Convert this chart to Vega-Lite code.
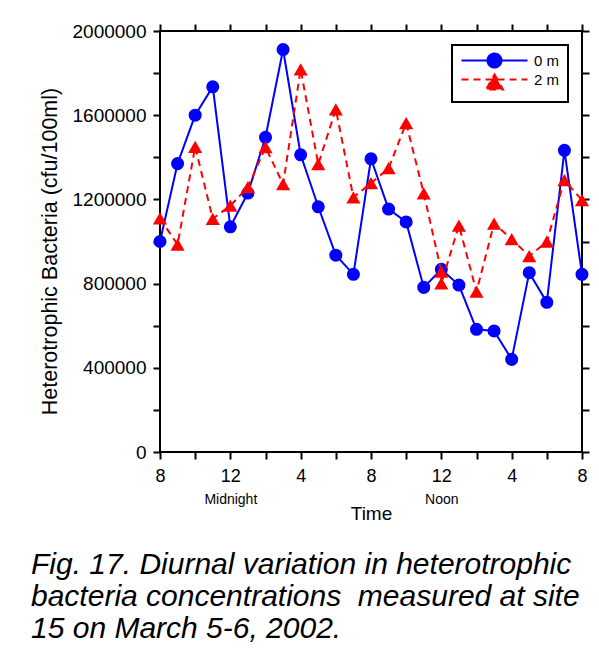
{
  "$schema": "https://vega.github.io/schema/vega-lite/v6.json",
  "width": 422,
  "height": 421,
  "autosize": {"type": "none"},
  "padding": {"left": 160, "top": 31, "right": 17, "bottom": 199},
  "background": "white",
  "config": {
    "font": "Liberation Sans",
    "view": {"stroke": "black", "strokeWidth": 2},
    "legend": {"strokeWidth": 2},
    "axis": {"grid": false, "domain": false, "labelColor": "black", "titleColor": "black", "tickColor": "black", "labelFont": "Liberation Sans", "titleFont": "Liberation Sans"}
  },
  "title": {
    "text": ["Fig. 17. Diurnal variation in heterotrophic", "bacteria concentrations\u00a0 measured at site", "15 on March 5-6, 2002."],
    "orient": "bottom",
    "anchor": "start",
    "frame": "group",
    "dx": -129,
    "offset": 27,
    "font": "Liberation Sans",
    "fontSize": 30,
    "fontStyle": "italic",
    "fontWeight": "normal",
    "lineHeight": 32,
    "color": "black"
  },
  "datasets": {
    "bact": [
      {"t": 0, "depth": "0 m", "v": 1000000, "ord": 0},
      {"t": 1, "depth": "0 m", "v": 1370000, "ord": 1},
      {"t": 2, "depth": "0 m", "v": 1600000, "ord": 2},
      {"t": 3, "depth": "0 m", "v": 1735000, "ord": 3},
      {"t": 4, "depth": "0 m", "v": 1070000, "ord": 4},
      {"t": 5, "depth": "0 m", "v": 1230000, "ord": 5},
      {"t": 6, "depth": "0 m", "v": 1495000, "ord": 6},
      {"t": 7, "depth": "0 m", "v": 1912000, "ord": 7},
      {"t": 8, "depth": "0 m", "v": 1412000, "ord": 8},
      {"t": 9, "depth": "0 m", "v": 1165000, "ord": 9},
      {"t": 10, "depth": "0 m", "v": 935000, "ord": 10},
      {"t": 11, "depth": "0 m", "v": 844000, "ord": 11},
      {"t": 12, "depth": "0 m", "v": 1393000, "ord": 12},
      {"t": 13, "depth": "0 m", "v": 1154000, "ord": 13},
      {"t": 14, "depth": "0 m", "v": 1093000, "ord": 14},
      {"t": 15, "depth": "0 m", "v": 782000, "ord": 15},
      {"t": 16, "depth": "0 m", "v": 868000, "ord": 16},
      {"t": 17, "depth": "0 m", "v": 793000, "ord": 17},
      {"t": 18, "depth": "0 m", "v": 583000, "ord": 18},
      {"t": 19, "depth": "0 m", "v": 575000, "ord": 19},
      {"t": 20, "depth": "0 m", "v": 440000, "ord": 20},
      {"t": 21, "depth": "0 m", "v": 852000, "ord": 21},
      {"t": 22, "depth": "0 m", "v": 711000, "ord": 22},
      {"t": 23, "depth": "0 m", "v": 1433000, "ord": 23},
      {"t": 24, "depth": "0 m", "v": 844000, "ord": 24},
      {"t": 0, "depth": "2 m", "v": 1110000, "ord": 0},
      {"t": 1, "depth": "2 m", "v": 985000, "ord": 1},
      {"t": 2, "depth": "2 m", "v": 1450000, "ord": 2},
      {"t": 3, "depth": "2 m", "v": 1108000, "ord": 3},
      {"t": 4, "depth": "2 m", "v": 1170000, "ord": 4},
      {"t": 5, "depth": "2 m", "v": 1258000, "ord": 5},
      {"t": 6, "depth": "2 m", "v": 1448000, "ord": 6},
      {"t": 7, "depth": "2 m", "v": 1272000, "ord": 7},
      {"t": 8, "depth": "2 m", "v": 1818000, "ord": 8},
      {"t": 9, "depth": "2 m", "v": 1367000, "ord": 9},
      {"t": 10, "depth": "2 m", "v": 1628000, "ord": 10},
      {"t": 11, "depth": "2 m", "v": 1210000, "ord": 11},
      {"t": 12, "depth": "2 m", "v": 1277000, "ord": 12},
      {"t": 13, "depth": "2 m", "v": 1348000, "ord": 13},
      {"t": 14, "depth": "2 m", "v": 1562000, "ord": 14},
      {"t": 15, "depth": "2 m", "v": 1229000, "ord": 15},
      {"t": 16, "depth": "2 m", "v": 857000, "ord": 16},
      {"t": 16, "depth": "2 m", "v": 801000, "ord": 17},
      {"t": 17, "depth": "2 m", "v": 1076000, "ord": 18},
      {"t": 18, "depth": "2 m", "v": 762000, "ord": 19},
      {"t": 19, "depth": "2 m", "v": 1085000, "ord": 20},
      {"t": 20, "depth": "2 m", "v": 1011000, "ord": 21},
      {"t": 21, "depth": "2 m", "v": 931000, "ord": 22},
      {"t": 22, "depth": "2 m", "v": 999000, "ord": 23},
      {"t": 23, "depth": "2 m", "v": 1292000, "ord": 24},
      {"t": 24, "depth": "2 m", "v": 1197000, "ord": 25}
    ]
  },
  "data": {"name": "bact"},
  "resolve": {"axis": {"x": "independent", "y": "independent"}},
  "layer": [
    {
      "transform": [{"filter": "datum.depth === '0 m'"}],
      "mark": {"type": "line", "color": "#0000ff", "strokeWidth": 2},
      "encoding": {
        "x": {
          "field": "t", "type": "quantitative",
          "scale": {"domain": [0, 24], "nice": false, "zero": false},
          "axis": {
            "orient": "bottom",
            "values": [0, 2, 4, 6, 8, 10, 12, 14, 16, 18, 20, 22, 24],
            "labelExpr": "datum.value % 4 === 0 ? ((8 + datum.value) % 12 === 0 ? '12' : '' + ((8 + datum.value) % 12)) : ''",
            "labelFontSize": 18,
            "labelPadding": 8,
            "labelFlush": false,
            "labelOverlap": false,
            "tickSize": 7,
            "tickWidth": 2,
            "title": "Time",
            "titleFontSize": 19,
            "titleFontWeight": "normal",
            "titlePadding": 19,
            "encode": {"ticks": {"update": {"y2": {"signal": "datum.value % 4 === 0 ? 7 : 4"}}}}
          }
        },
        "y": {
          "field": "v", "type": "quantitative",
          "scale": {"domain": [0, 2000000], "nice": false},
          "axis": {
            "orient": "left",
            "values": [0, 200000, 400000, 600000, 800000, 1000000, 1200000, 1400000, 1600000, 1800000, 2000000],
            "labelExpr": "datum.value % 400000 === 0 ? '' + datum.value : ''",
            "labelFontSize": 19,
            "labelPadding": 7,
            "labelOverlap": false,
            "labelFlush": false,
            "tickSize": 7,
            "tickWidth": 2,
            "title": "Heterotrophic Bacteria (cfu/100ml)",
            "titleFontSize": 21.5,
            "titleFontWeight": "normal",
            "titlePadding": 11,
            "titleY": 220,
            "encode": {"ticks": {"update": {"x2": {"signal": "datum.value % 400000 === 0 ? -7 : -4"}}}}
          }
        },
        "order": {"field": "ord", "type": "quantitative"}
      }
    },
    {
      "transform": [{"filter": "datum.depth === '0 m'"}],
      "mark": {"type": "point", "filled": true, "opacity": 1, "size": 170, "shape": "circle", "color": "#0000ff"},
      "encoding": {
        "x": {
          "field": "t", "type": "quantitative",
          "axis": {
            "orient": "top",
            "values": [0, 2, 4, 6, 8, 10, 12, 14, 16, 18, 20, 22, 24],
            "labels": false,
            "tickSize": 7,
            "tickWidth": 2,
            "title": null,
            "encode": {"ticks": {"update": {"y2": {"signal": "datum.value % 4 === 0 ? -7 : -4"}}}}
          }
        },
        "y": {
          "field": "v", "type": "quantitative",
          "axis": {
            "orient": "right",
            "values": [0, 200000, 400000, 600000, 800000, 1000000, 1200000, 1400000, 1600000, 1800000, 2000000],
            "labels": false,
            "tickSize": 7,
            "tickWidth": 2,
            "title": null,
            "encode": {"ticks": {"update": {"x2": {"signal": "datum.value % 400000 === 0 ? 7 : 4"}}}}
          }
        }
      }
    },
    {
      "transform": [{"filter": "datum.depth === '2 m'"}],
      "mark": {"type": "line", "color": "#ff0000", "strokeWidth": 2, "strokeDash": [7, 5]},
      "encoding": {
        "x": {
          "field": "t", "type": "quantitative",
          "axis": {
            "orient": "bottom",
            "values": [4, 16],
            "labelExpr": "datum.value === 4 ? 'Midnight' : 'Noon'",
            "labelFontSize": 14,
            "labelPadding": 40,
            "ticks": false,
            "tickSize": 0,
            "labelFlush": false,
            "labelOverlap": false,
            "title": null
          }
        },
        "y": {"field": "v", "type": "quantitative", "axis": null},
        "order": {"field": "ord", "type": "quantitative"}
      }
    },
    {
      "transform": [{"filter": "datum.depth === '2 m'"}],
      "mark": {"type": "point", "filled": true, "opacity": 1, "size": 200, "shape": "triangle-up", "color": "#ff0000"},
      "encoding": {
        "x": {"field": "t", "type": "quantitative", "axis": null},
        "y": {"field": "v", "type": "quantitative", "axis": null}
      }
    },
    {
      "mark": {"type": "point", "filled": true, "opacity": 1, "size": 0, "strokeWidth": 2},
      "encoding": {
        "x": {"field": "t", "type": "quantitative", "axis": null},
        "y": {"field": "v", "type": "quantitative", "axis": null},
        "color": {
          "field": "depth", "type": "nominal",
          "scale": {"domain": ["0 m", "2 m"], "range": ["#0000ff", "#ff0000"]},
          "legend": {
            "orient": "top-right",
            "offset": 14,
            "title": null,
            "strokeColor": "black",
            "fillColor": "white",
            "padding": 8,
            "labelFontSize": 15,
            "labelColor": "black",
            "labelFont": "Liberation Sans",
            "symbolSize": 4,
            "symbolStrokeWidth": 2,
            "symbolOffset": 27,
            "labelOffset": 32,
            "rowPadding": -7
          }
        },
        "stroke": {
          "field": "depth", "type": "nominal",
          "scale": {"domain": ["0 m", "2 m"], "range": ["#0000ff", "#ff0000"]}
        },
        "shape": {
          "field": "depth", "type": "nominal",
          "scale": {"domain": ["0 m", "2 m"], "range": ["M-33,0H33M7,0A7,7 0 1,1 -7,0A7,7 0 1,1 7,0Z", "M-33,0H33M0,-5L8.5,10H-8.5Z"]}
        },
        "strokeDash": {
          "field": "depth", "type": "nominal",
          "scale": {"domain": ["0 m", "2 m"], "range": [[1, 0], [7, 5]]}
        }
      }
    }
  ]
}
